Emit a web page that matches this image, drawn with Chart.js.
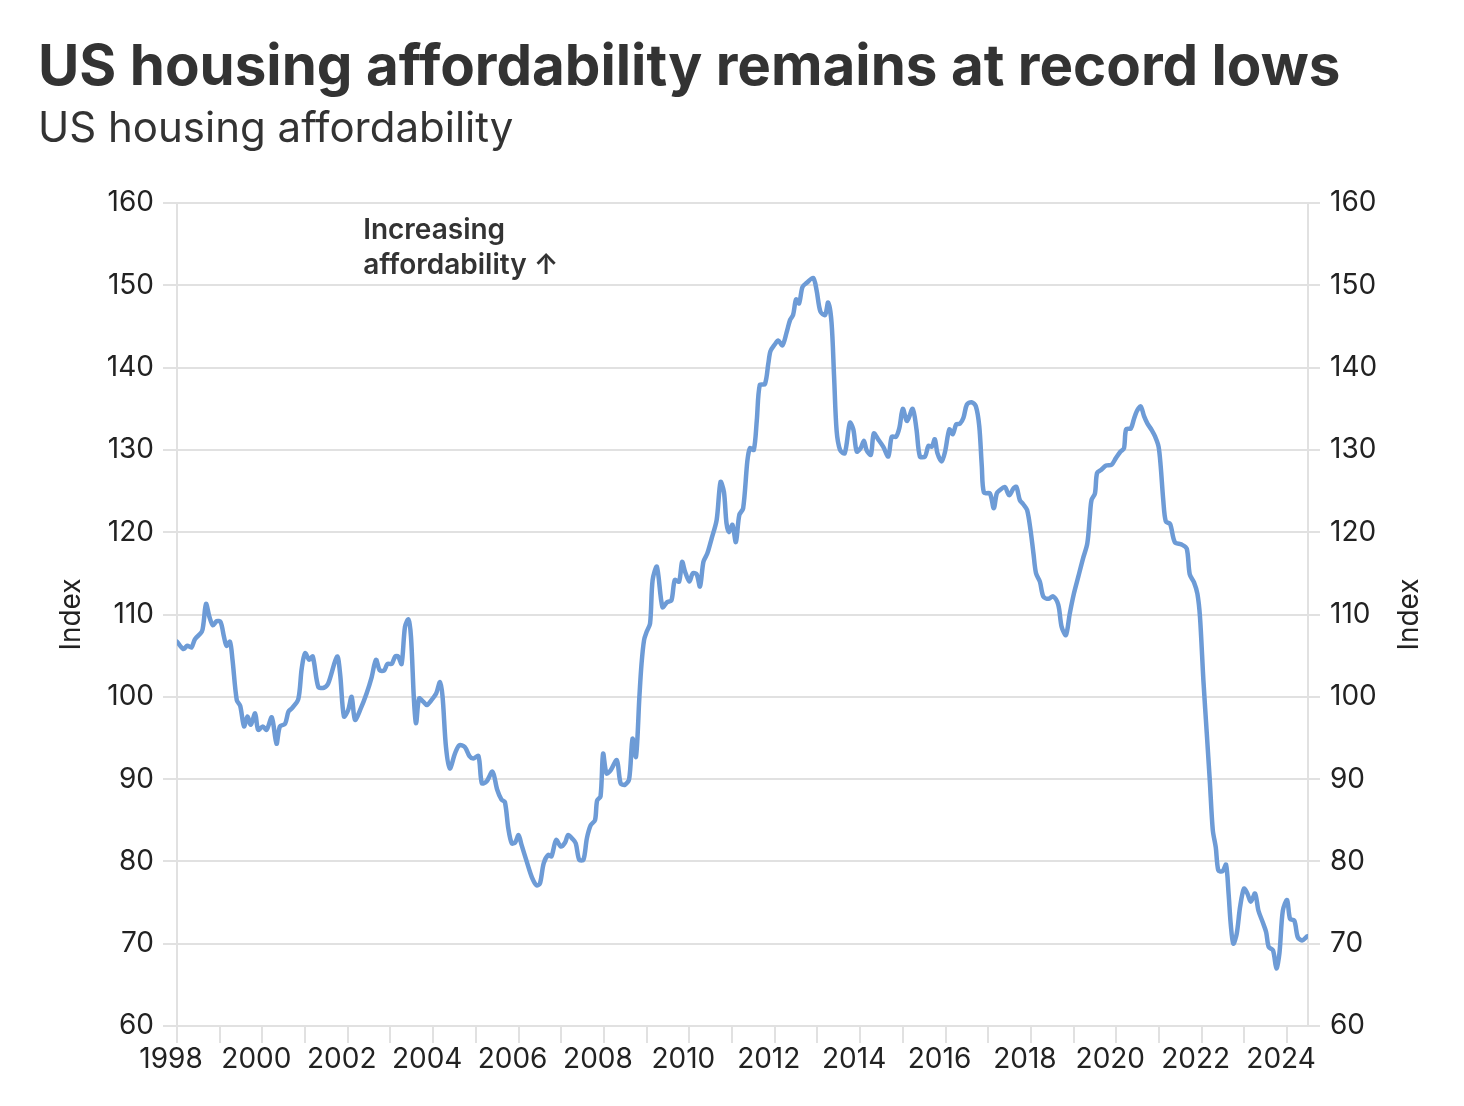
<!DOCTYPE html>
<html>
<head>
<meta charset="utf-8">
<script src="https://cdn.jsdelivr.net/npm/chart.js@4.4.1/dist/chart.umd.min.js"></script>
<style>
	body { margin: 0; background: #fff; font-family: Inter, sans-serif; }
	#wrap { position: relative; width: 1464px; height: 1106px; }
	#title { position: absolute; left: 38px; top: 30px; font-size: 56.5px; font-weight: 700; color: #333; white-space: nowrap; letter-spacing: 0; }
	#subtitle { position: absolute; left: 38px; top: 101px; font-size: 42px; color: #333; white-space: nowrap; }
	canvas { position: absolute; left: 0; top: 0; }
</style>
</head>
<body>
<div id="wrap">
	<canvas id="chart" width="1464" height="1106"></canvas>
	<div id="title">US housing affordability remains at record lows</div>
	<div id="subtitle">US housing affordability</div>
</div>
<script>
const dates = [
	1998.00, 1998.15, 1998.24, 1998.34, 1998.42, 1998.58, 1998.62, 1998.68, 1998.76, 1998.84, 1998.93,
	1999.02, 1999.10, 1999.16, 1999.24, 1999.30, 1999.40, 1999.48, 1999.57, 1999.65, 1999.73, 1999.83, 1999.90,
	2000.01, 2000.10, 2000.22, 2000.33, 2000.41, 2000.53, 2000.61, 2000.69, 2000.84, 2000.92,
	2001.00, 2001.10, 2001.18, 2001.31, 2001.44, 2001.54, 2001.75, 2001.82, 2001.91,
	2002.01, 2002.09, 2002.17, 2002.29, 2002.44, 2002.56, 2002.66, 2002.75, 2002.85, 2002.93,
	2003.03, 2003.11, 2003.18, 2003.26, 2003.34, 2003.42, 2003.48, 2003.55, 2003.60, 2003.67, 2003.77, 2003.85, 2003.96,
	2004.07, 2004.16, 2004.22, 2004.30, 2004.39, 2004.51, 2004.61, 2004.74, 2004.85, 2004.94,
	2005.06, 2005.14, 2005.25, 2005.39, 2005.50, 2005.60, 2005.68, 2005.76, 2005.84, 2005.92,
	2006.00, 2006.07, 2006.19, 2006.31, 2006.42, 2006.50, 2006.59, 2006.70, 2006.77, 2006.88, 2006.99,
	2007.09, 2007.16, 2007.27, 2007.34, 2007.42, 2007.52, 2007.60, 2007.69, 2007.79, 2007.84, 2007.92, 2007.98,
	2008.06, 2008.16, 2008.30, 2008.39, 2008.49, 2008.59, 2008.67, 2008.75, 2008.83, 2008.88, 2008.94,
	2009.00, 2009.08, 2009.14, 2009.24, 2009.37, 2009.48, 2009.58, 2009.66, 2009.76, 2009.83, 2009.90,
	2010.00, 2010.08, 2010.17, 2010.25, 2010.33, 2010.42, 2010.52, 2010.64, 2010.73, 2010.81, 2010.87, 2010.93,
	2011.01, 2011.09, 2011.17, 2011.26, 2011.36, 2011.42, 2011.51, 2011.58, 2011.65, 2011.77, 2011.85, 2011.90,
	2012.00, 2012.08, 2012.18, 2012.28, 2012.36, 2012.43, 2012.50, 2012.57, 2012.65, 2012.75, 2012.90, 2012.98,
	2013.07, 2013.18, 2013.25, 2013.33, 2013.39, 2013.45, 2013.53, 2013.64, 2013.76, 2013.84, 2013.92,
	2014.01, 2014.09, 2014.15, 2014.25, 2014.32, 2014.42, 2014.54, 2014.66, 2014.74, 2014.84, 2014.92,
	2015.00, 2015.10, 2015.23, 2015.32, 2015.40, 2015.52, 2015.60, 2015.68, 2015.75, 2015.81, 2015.91, 2015.99,
	2016.09, 2016.17, 2016.25, 2016.34, 2016.42, 2016.50, 2016.61, 2016.71, 2016.79, 2016.85, 2016.90,
	2017.04, 2017.13, 2017.20, 2017.27, 2017.39, 2017.49, 2017.59, 2017.66, 2017.74, 2017.82, 2017.91, 2017.99,
	2018.06, 2018.12, 2018.21, 2018.29, 2018.41, 2018.52, 2018.64, 2018.72, 2018.82, 2018.91,
	2019.01, 2019.11, 2019.22, 2019.32, 2019.38, 2019.42, 2019.50, 2019.55, 2019.65, 2019.76, 2019.89, 2019.99,
	2020.10, 2020.18, 2020.23, 2020.34, 2020.41, 2020.48, 2020.57, 2020.65, 2020.73, 2020.83, 2020.91, 2020.99,
	2021.04, 2021.10, 2021.16, 2021.26, 2021.37, 2021.53, 2021.65, 2021.72, 2021.82, 2021.90, 2021.96,
	2022.04, 2022.12, 2022.19, 2022.26, 2022.33, 2022.39, 2022.49, 2022.57, 2022.63, 2022.68, 2022.74, 2022.82, 2022.90, 2022.99,
	2023.07, 2023.15, 2023.25, 2023.33, 2023.43, 2023.51, 2023.57, 2023.67, 2023.75, 2023.82, 2023.90,
	2024.00, 2024.07, 2024.17, 2024.25, 2024.35, 2024.47
];

const affordability = [
	106.7, 105.8, 106.2, 106.0, 107.0, 107.9, 108.9, 111.3, 109.7, 108.7, 109.2,
	109.1, 107.3, 106.2, 106.7, 104.5, 99.6, 98.9, 96.4, 97.6, 96.6, 98.0, 96.0,
	96.4, 96.0, 97.5, 94.3, 96.4, 96.7, 98.2, 98.6, 99.7, 103.4,
	105.3, 104.5, 104.9, 101.2, 101.1, 101.6, 104.9, 102.8, 97.6,
	98.4, 100.0, 97.2, 98.4, 100.4, 102.4, 104.5, 103.2, 103.2, 104.0,
	104.0, 104.9, 104.9, 104.0, 108.5, 109.4, 107.3, 99.6, 96.8, 99.8, 99.4, 99.0, 99.6,
	100.4, 101.8, 100.0, 93.9, 91.3, 93.1, 94.1, 93.9, 92.8, 92.5,
	92.8, 89.5, 89.7, 90.9, 88.7, 87.5, 87.2, 84.0, 82.2, 82.3,
	83.2, 82.0, 80.0, 78.1, 77.1, 77.3, 79.8, 80.8, 80.6, 82.6, 81.8,
	82.3, 83.2, 82.7, 82.2, 80.2, 80.2, 82.8, 84.4, 85.0, 87.4, 87.9, 93.1,
	90.7, 91.1, 92.3, 89.5, 89.3, 90.0, 94.9, 92.7, 100.0, 104.0, 106.9,
	107.9, 108.9, 114.2, 115.8, 110.9, 111.5, 111.7, 114.2, 114.0, 116.4, 115.2,
	114.0, 115.0, 114.9, 113.4, 116.4, 117.4, 119.2, 121.5, 126.1, 124.9, 121.1, 120.0,
	120.9, 118.8, 122.1, 122.9, 128.7, 130.2, 130.0, 133.6, 137.9, 138.0, 140.5, 142.0,
	142.8, 143.3, 142.7, 144.3, 145.8, 146.4, 148.3, 147.8, 149.8, 150.3, 150.9, 149.4,
	146.8, 146.4, 147.9, 145.5, 138.9, 132.3, 130.0, 129.6, 133.3, 132.5, 129.8,
	130.2, 131.1, 130.0, 129.4, 132.0, 131.3, 130.4, 129.2, 131.6, 131.6, 132.7,
	135.0, 133.5, 135.0, 132.5, 129.2, 129.2, 130.5, 130.4, 131.3, 129.6, 128.6, 129.8,
	132.5, 131.9, 133.1, 133.2, 133.9, 135.5, 135.8, 135.3, 132.9, 128.0, 124.8,
	124.7, 122.9, 124.7, 125.1, 125.5, 124.5, 125.3, 125.5, 123.9, 123.4, 122.7, 120.3,
	117.4, 115.0, 114.0, 112.2, 111.9, 112.2, 111.2, 108.5, 107.5, 110.1,
	112.6, 114.6, 116.8, 118.6, 121.9, 123.9, 124.7, 127.2, 127.6, 128.1, 128.2, 129.0,
	129.8, 130.2, 132.5, 132.6, 133.7, 134.7, 135.3, 134.1, 133.2, 132.4, 131.6, 130.4,
	128.0, 123.9, 121.3, 121.0, 118.8, 118.5, 118.0, 114.9, 113.9, 112.5, 109.7,
	102.0, 95.5, 89.8, 83.8, 81.7, 78.9, 78.8, 79.6, 76.1, 72.4, 70.0, 71.2, 74.5, 76.7,
	76.1, 75.1, 76.1, 74.0, 72.6, 71.4, 69.6, 69.2, 67.0, 68.8, 74.0,
	75.3, 73.0, 72.8, 70.8, 70.4, 70.9
];

const yearTicks = [1998, 1999, 2000, 2001, 2002, 2003, 2004, 2005, 2006, 2007, 2008, 2009, 2010,
	2011, 2012, 2013, 2014, 2015, 2016, 2017, 2018, 2019, 2020, 2021, 2022, 2023, 2024];
const indexTicks = [60, 70, 80, 90, 100, 110, 120, 130, 140, 150, 160];

const noteLines = ['Increasing', 'affordability \u2191'];
const notePos = { x: 2002.36, y: [156.7, 152.4] };

let lineColor = '#6d9bd6';
let gridColor = '#e1e1e1';
let textColor = '#222';
let tickFont = { family: 'Inter', size: 28 };

let annotationPlugin = {
	id: 'note',
	afterDraw(chart) {
		let ctx = chart.ctx;
		let x = chart.scales.x.getPixelForValue(notePos.x);
		ctx.save();
		ctx.font = '600 28px Inter';
		ctx.fillStyle = '#333';
		ctx.textAlign = 'left';
		ctx.textBaseline = 'middle';
		noteLines.forEach((line, i) => {
			ctx.fillText(line, x, chart.scales.y.getPixelForValue(notePos.y[i]));
		});
		ctx.restore();
	}
};

// right axis title reads bottom-to-top like the left one
let rightTitlePlugin = {
	id: 'rightTitle',
	afterDraw(chart) {
		let ctx = chart.ctx;
		let area = chart.chartArea;
		ctx.save();
		ctx.translate(chart.scales.y2.right - 54, (area.top + area.bottom) / 2);
		ctx.rotate(-Math.PI / 2);
		ctx.font = '28px Inter';
		ctx.fillStyle = textColor;
		ctx.textAlign = 'center';
		ctx.textBaseline = 'middle';
		ctx.fillText('Index', 0, 0);
		ctx.restore();
	}
};

function setIndexTicks(scale) {
	scale.ticks = indexTicks.map(v => ({ value: v }));
}

function createChart(context) {
	let data = {
		datasets: [{
			label: 'US housing affordability',
			data: dates.map((d, i) => ({ x: d, y: affordability[i] })),
			borderColor: lineColor,
			borderWidth: 4.5,
			pointRadius: 0,
			tension: 0.3,
			borderJoinStyle: 'round',
			borderCapStyle: 'round',
			fill: false
		}]
	};

	let xScaleConfig = {
		type: 'linear',
		min: 1998,
		max: 2024.49,
		afterBuildTicks: (scale) => { scale.ticks = yearTicks.map(v => ({ value: v })); },
		afterFit: (scale) => { scale.height = 80; },
		grid: { drawOnChartArea: false, tickLength: 17, color: gridColor, lineWidth: 2 },
		border: { color: gridColor, width: 2 },
		ticks: {
			autoSkip: false,
			maxRotation: 0,
			padding: 0,
			labelOffset: -6,
			color: textColor,
			font: tickFont,
			callback: (v) => v % 2 === 0 ? String(v) : ''
		}
	};

	let yScaleConfig = {
		position: 'left',
		min: 60,
		max: 160,
		afterBuildTicks: setIndexTicks,
		afterFit: (scale) => { scale.width = 177; },
		grid: { color: gridColor, lineWidth: 2, tickLength: 14 },
		border: { color: gridColor, width: 2 },
		ticks: { padding: 9, color: textColor, font: tickFont },
		title: { display: true, text: 'Index', color: textColor, font: tickFont, padding: { top: 55, bottom: 0 } }
	};

	let y2ScaleConfig = {
		position: 'right',
		min: 60,
		max: 160,
		afterBuildTicks: setIndexTicks,
		afterFit: (scale) => { scale.width = 156; },
		grid: { drawOnChartArea: false, color: gridColor, lineWidth: 2, tickLength: 12 },
		border: { color: gridColor, width: 2 },
		ticks: { padding: 10, color: textColor, font: tickFont }
	};

	let config = {
		type: 'line',
		data: data,
		options: {
			responsive: false,
			animation: false,
			layout: { padding: { top: 203, right: 0, bottom: 0, left: 0 } },
			plugins: {
				legend: { display: false },
				tooltip: { enabled: false }
			},
			scales: {
				x: xScaleConfig,
				y: yScaleConfig,
				y2: y2ScaleConfig
			}
		},
		plugins: [annotationPlugin, rightTitlePlugin]
	};

	return new Chart(context, config);
}

let chart = createChart(document.getElementById('chart').getContext('2d'));
</script>
</body>
</html>
